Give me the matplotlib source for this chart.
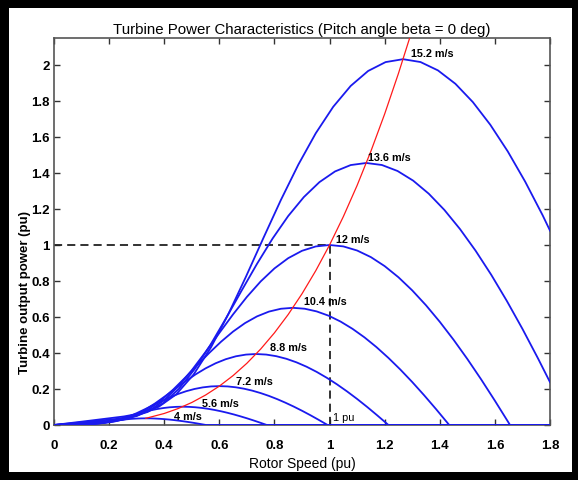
import matplotlib
matplotlib.use("Agg")
import matplotlib.pyplot as plt
from matplotlib.patches import Rectangle

plt.rcParams['font.family'] = ['Liberation Sans', 'DejaVu Sans']

# -----------------------------
# Data
# -----------------------------
# power curves, one per wind speed (rotor speed pu, power pu)
v15_2_x = [0, 0.1267, 0.2533, 0.3167, 0.38, 0.4433, 0.5067, 0.57, 0.6333, 0.6967, 0.76,
           0.8233, 0.8867, 0.95, 1.0133, 1.0767, 1.14, 1.2033, 1.2667, 1.33, 1.3933,
           1.4567, 1.52, 1.5833, 1.6467, 1.71, 1.7733, 1.8]
v15_2_y = [0, 0.0234, 0.0474, 0.0652, 0.1012, 0.1699, 0.2805, 0.4323, 0.6178, 0.8243, 1.0391,
           1.2499, 1.4464, 1.621, 1.7679, 1.8838, 1.9669, 2.0161, 2.0323, 2.0165, 1.9701,
           1.8956, 1.794, 1.6681, 1.52, 1.3517, 1.1651, 1.08]

v13_6_x = [0, 0.1133, 0.2267, 0.2833, 0.34, 0.3967, 0.4533, 0.51, 0.5667, 0.6233, 0.68,
           0.7367, 0.7933, 0.85, 0.9067, 0.9633, 1.02, 1.0767, 1.1333, 1.19, 1.2467,
           1.3033, 1.36, 1.4167, 1.4733, 1.53, 1.5867, 1.6433, 1.7, 1.7567, 1.8]
v13_6_y = [0, 0.0167, 0.0339, 0.0467, 0.0725, 0.1217, 0.2009, 0.3096, 0.4425, 0.5904, 0.7443,
           0.8953, 1.036, 1.1611, 1.2663, 1.3493, 1.4088, 1.4441, 1.4557, 1.4444, 1.4112,
           1.3577, 1.285, 1.1948, 1.0887, 0.9682, 0.8346, 0.6894, 0.534, 0.3692, 0.238]

v12_x = [0, 0.1, 0.2, 0.25, 0.3, 0.35, 0.4, 0.45, 0.5, 0.55, 0.6, 0.65, 0.7, 0.75, 0.8,
         0.85, 0.9, 0.95, 1.0, 1.05, 1.1, 1.15, 1.2, 1.25, 1.3, 1.35, 1.4, 1.45, 1.5,
         1.55, 1.6, 1.655, 1.8]
v12_y = [0, 0.0115, 0.0233, 0.0321, 0.0498, 0.0836, 0.138, 0.2127, 0.304, 0.4056, 0.5113,
         0.615, 0.7117, 0.7976, 0.8699, 0.9269, 0.9678, 0.992, 1.0, 0.9922, 0.9694, 0.9327,
         0.8827, 0.8208, 0.7479, 0.6651, 0.5733, 0.4736, 0.3668, 0.2536, 0.1349, 0, 0]

v10_4_x = [0, 0.0867, 0.1733, 0.2167, 0.26, 0.3033, 0.3467, 0.39, 0.4333, 0.4767, 0.52,
           0.5633, 0.6067, 0.65, 0.6933, 0.7367, 0.78, 0.8233, 0.8667, 0.91, 0.9533,
           0.9967, 1.04, 1.0833, 1.1267, 1.17, 1.2133, 1.2567, 1.3, 1.3433, 1.3867,
           1.4343, 1.8]
v10_4_y = [0, 0.0075, 0.0152, 0.0209, 0.0324, 0.0544, 0.0898, 0.1385, 0.1979, 0.264, 0.3328,
           0.4003, 0.4633, 0.5192, 0.5663, 0.6034, 0.63, 0.6458, 0.651, 0.6459, 0.631,
           0.6072, 0.5746, 0.5343, 0.4869, 0.433, 0.3732, 0.3083, 0.2388, 0.1651, 0.0878,
           0, 0]

v8_8_x = [0, 0.0733, 0.1467, 0.1833, 0.22, 0.2567, 0.2933, 0.33, 0.3667, 0.4033, 0.44,
          0.4767, 0.5133, 0.55, 0.5867, 0.6233, 0.66, 0.6967, 0.7333, 0.77, 0.8067,
          0.8433, 0.88, 0.9167, 0.9533, 0.99, 1.0267, 1.0633, 1.1, 1.1367, 1.1733,
          1.2137, 1.8]
v8_8_y = [0, 0.0045, 0.0092, 0.0127, 0.0196, 0.033, 0.0544, 0.0839, 0.1199, 0.16, 0.2016,
          0.2425, 0.2807, 0.3146, 0.3431, 0.3655, 0.3817, 0.3912, 0.3944, 0.3913, 0.3823,
          0.3678, 0.3481, 0.3237, 0.295, 0.2623, 0.2261, 0.1868, 0.1447, 0.1, 0.0532,
          0, 0]

v7_2_x = [0, 0.06, 0.12, 0.15, 0.18, 0.21, 0.24, 0.27, 0.30, 0.33, 0.36, 0.39, 0.42, 0.45,
          0.48, 0.51, 0.54, 0.57, 0.60, 0.63, 0.66, 0.69, 0.72, 0.75, 0.78, 0.81, 0.84,
          0.87, 0.90, 0.93, 0.96, 0.993, 1.8]
v7_2_y = [0, 0.0025, 0.005, 0.0069, 0.0108, 0.0181, 0.0298, 0.0459, 0.0657, 0.0876, 0.1104,
          0.1328, 0.1537, 0.1723, 0.1879, 0.2002, 0.209, 0.2143, 0.216, 0.2143, 0.2094,
          0.2015, 0.1907, 0.1773, 0.1616, 0.1437, 0.1238, 0.1023, 0.0792, 0.0548, 0.0291,
          0, 0]

v5_6_x = [0, 0.0467, 0.0933, 0.1167, 0.14, 0.1633, 0.1867, 0.21, 0.2333, 0.2567, 0.28,
          0.3033, 0.3267, 0.35, 0.3733, 0.3967, 0.42, 0.4433, 0.4667, 0.49, 0.5133,
          0.5367, 0.56, 0.5833, 0.6067, 0.63, 0.6533, 0.6767, 0.70, 0.7233, 0.7467,
          0.7723, 1.8]
v5_6_y = [0, 0.0012, 0.0024, 0.0033, 0.0051, 0.0085, 0.014, 0.0216, 0.0309, 0.0412, 0.052,
          0.0625, 0.0723, 0.0811, 0.0884, 0.0942, 0.0984, 0.1008, 0.1016, 0.1008, 0.0985,
          0.0948, 0.0897, 0.0834, 0.076, 0.0676, 0.0583, 0.0481, 0.0373, 0.0258, 0.0137,
          0, 0]

v4_x = [0, 0.0333, 0.0667, 0.0833, 0.1, 0.1167, 0.1333, 0.15, 0.1667, 0.1833, 0.2,
        0.2167, 0.2333, 0.25, 0.2667, 0.2833, 0.30, 0.3167, 0.3333, 0.35, 0.3667,
        0.3833, 0.40, 0.4167, 0.4333, 0.45, 0.4667, 0.4833, 0.50, 0.5167, 0.5333,
        0.5517, 1.8]
v4_y = [0, 0.0004, 0.0009, 0.0012, 0.0018, 0.0031, 0.0051, 0.0079, 0.0113, 0.015, 0.0189,
        0.0228, 0.0264, 0.0295, 0.0322, 0.0343, 0.0358, 0.0367, 0.037, 0.0368, 0.0359,
        0.0345, 0.0327, 0.0304, 0.0277, 0.0246, 0.0212, 0.0175, 0.0136, 0.0094, 0.005,
        0, 0]

# maximum power point track (red)
mpp_x = [0.333, 0.4, 0.45, 0.5, 0.55, 0.6, 0.65, 0.7, 0.75, 0.8, 0.85, 0.9, 0.95, 1.0,
         1.05, 1.1, 1.15, 1.2, 1.25, 1.291]
mpp_y = [0.037, 0.064, 0.0911, 0.125, 0.1664, 0.216, 0.2746, 0.343, 0.4219, 0.512, 0.6141,
         0.729, 0.8574, 1.0, 1.1576, 1.331, 1.5209, 1.728, 1.9531, 2.1516]

# curve labels
label_text = ["15.2 m/s", "13.6 m/s", "12 m/s", "10.4 m/s", "8.8 m/s", "7.2 m/s", "5.6 m/s", "4 m/s"]
label_x = [1.295, 1.141, 1.025, 0.906, 0.783, 0.662, 0.537, 0.436]
label_y = [2.065, 1.487, 1.033, 0.69, 0.435, 0.243, 0.12, 0.048]

x_ticks = [0, 0.2, 0.4, 0.6, 0.8, 1.0, 1.2, 1.4, 1.6, 1.8]
x_tick_labels = ["0", "0.2", "0.4", "0.6", "0.8", "1", "1.2", "1.4", "1.6", "1.8"]
y_ticks = [0, 0.2, 0.4, 0.6, 0.8, 1.0, 1.2, 1.4, 1.6, 1.8, 2.0]
y_tick_labels = ["0", "0.2", "0.4", "0.6", "0.8", "1", "1.2", "1.4", "1.6", "1.8", "2"]

curves = [
    (v15_2_x, v15_2_y), (v13_6_x, v13_6_y), (v12_x, v12_y), (v10_4_x, v10_4_y),
    (v8_8_x, v8_8_y), (v7_2_x, v7_2_y), (v5_6_x, v5_6_y), (v4_x, v4_y),
]

W, H = 578, 481
fig = plt.figure(figsize=(W / 100, H / 100), dpi=100)
fig.patch.set_facecolor("black")
# white sheet inside the black frame
fig.add_artist(Rectangle((9 / W, 8 / H), 563 / W, 464 / H, transform=fig.transFigure,
                         facecolor="white", edgecolor="none", zorder=-1))

ax = fig.add_axes([54 / W, 55 / H, 496 / W, 387 / H])

for cx, cy in curves:
    ax.plot(cx, cy, color="#1a1aee", linewidth=1.3, zorder=3)

ax.plot(mpp_x, mpp_y, color="#ff1a1a", linewidth=0.9, zorder=4)

# 1 pu reference lines
ax.plot([0, 1], [1, 1], color="#222222", linewidth=1.3, linestyle=(0, (4.5, 2.8)), zorder=2)
ax.plot([1, 1], [0, 1], color="#222222", linewidth=1.3, linestyle=(0, (4.5, 2.8)), zorder=2)

for txt, tx, ty in zip(label_text, label_x, label_y):
    ax.text(tx, ty, txt, fontsize=7.8, fontweight="bold", ha="left", va="center", zorder=5)
ax.text(1.012, 0.043, "1 pu", fontsize=7.8, ha="left", va="center", zorder=5)

ax.set_xlim(0, 1.8)
ax.set_ylim(0, 2.15)
ax.set_xticks(x_ticks, x_tick_labels)
ax.set_yticks(y_ticks, y_tick_labels)
ax.tick_params(direction="in", length=4, width=1, top=True, right=True, color="#333333",
               labelsize=9.5)
ax.tick_params(axis="x", pad=10)
ax.tick_params(axis="y", pad=3)
for lab in ax.get_xticklabels() + ax.get_yticklabels():
    lab.set_fontweight("bold")
for sp in ax.spines.values():
    sp.set_color("#555555")
    sp.set_linewidth(1.2)

fig.text(302 / W, 1 - 34 / H, "Turbine Power Characteristics (Pitch angle beta = 0 deg)",
         ha="center", va="baseline", fontsize=10.8)
fig.text(302 / W, 1 - 464 / H, "Rotor Speed (pu)", ha="center", va="center", fontsize=10)
fig.text(25 / W, 1 - 292 / H, "Turbine output power (pu)", ha="center", va="center",
         rotation=90, fontsize=9.5, fontweight="bold")

fig.savefig("out.png", dpi=100, facecolor=fig.get_facecolor())
